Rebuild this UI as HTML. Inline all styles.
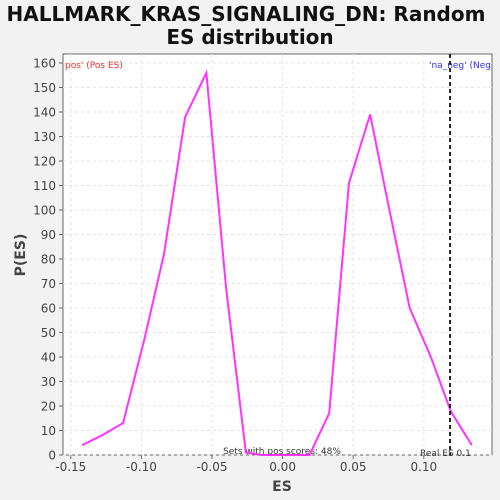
<!DOCTYPE html>
<html><head><meta charset="utf-8"><style>
body{margin:0;background:#f2f2f2;font-family:"DejaVu Sans","Liberation Sans",sans-serif}
svg{display:block}
</style></head><body>
<svg width="500" height="500" id="c">
<text x="246" y="21" text-anchor="middle" font-size="20" font-weight="bold" fill="#111">HALLMARK_KRAS_SIGNALING_DN: Random</text>
<text x="250" y="44" text-anchor="middle" font-size="20" font-weight="bold" fill="#111">ES distribution</text>
<rect x="63" y="54" width="429" height="401" fill="#fff" stroke="#666"/>
<g id="grid"></g><g id="axes"></g>
<text x="282" y="491" text-anchor="middle" font-size="14" font-weight="bold" fill="#444">ES</text>
<text transform="translate(25,255) rotate(-90)" text-anchor="middle" font-size="14" font-weight="bold" fill="#444">P(ES)</text>
<text x="65" y="68" font-size="9" fill="#f03030">pos' (Pos ES)</text>
<svg x="63" y="54" width="429" height="401" overflow="hidden"><text x="366" y="14" font-size="9" fill="#3030e0">'na_neg' (Neg</text></svg>
<text x="282" y="454" text-anchor="middle" font-size="9" fill="#333">Sets with pos scores: 48%</text>
<text x="420" y="456" font-size="9" fill="#333">Real ES 0.1</text>
<g id="marks"></g>
</svg>
<script>
const esValues=[-0.142,-0.128,-0.113,-0.098,-0.084,-0.069,-0.054,-0.040,-0.026,-0.015,0.004,0.019,0.033,0.047,0.062,0.076,0.090,0.105,0.119,0.134];
const density=[4,8,13,47,82,138,156,68,1,0,0,0,17,111,139,99,60,40,18,4];
const xTicks=[-0.15,-0.10,-0.05,0.00,0.05,0.10];
const yTicks=[0,10,20,30,40,50,60,70,80,90,100,110,120,130,140,150,160];
const realES=[0.1186];
const X=v=>282.6+v*1412, Y=v=>455-v*2.45;
const NS='http://www.w3.org/2000/svg';
function mk(p,t,a){const e=document.createElementNS(NS,t);for(const k in a)e.setAttribute(k,a[k]);document.getElementById(p).appendChild(e);return e;}
xTicks.forEach(t=>{
 const g=mk('grid','line',{x1:X(t),x2:X(t),y1:54,y2:455,stroke:'#e4e4e4','stroke-dasharray':'3,3'});
 
 mk('axes','line',{x1:X(t),x2:X(t),y1:455,y2:459,stroke:'#666'});
 const l=mk('axes','text',{x:X(t),y:471,'text-anchor':'middle','font-size':12,fill:'#444'});
 
 l.textContent=t.toFixed(2);
});
yTicks.forEach(t=>{
 const g=mk('grid','line',{x1:63,x2:492,y1:Y(t),y2:Y(t),stroke:'#e4e4e4','stroke-dasharray':'3,3'});
 
 mk('axes','line',{x1:59,x2:63,y1:Y(t),y2:Y(t),stroke:'#666'});
 const l=mk('axes','text',{x:56,y:Y(t)+4.5,'text-anchor':'end','font-size':12,fill:'#444'});
 
 l.textContent=t;
});
const pts=esValues.map((v,i)=>X(v)+','+Y(density[i])).join(' ');
const pl=mk('marks','polyline',{points:pts,fill:'none',stroke:'#ff33ff','stroke-width':2});

realES.forEach(v=>{
 const r=mk('marks','line',{x1:X(v),x2:X(v),y1:54,y2:455,stroke:'#222','stroke-width':2,'stroke-dasharray':'4,3'});
 
});
</script>
</body></html>
